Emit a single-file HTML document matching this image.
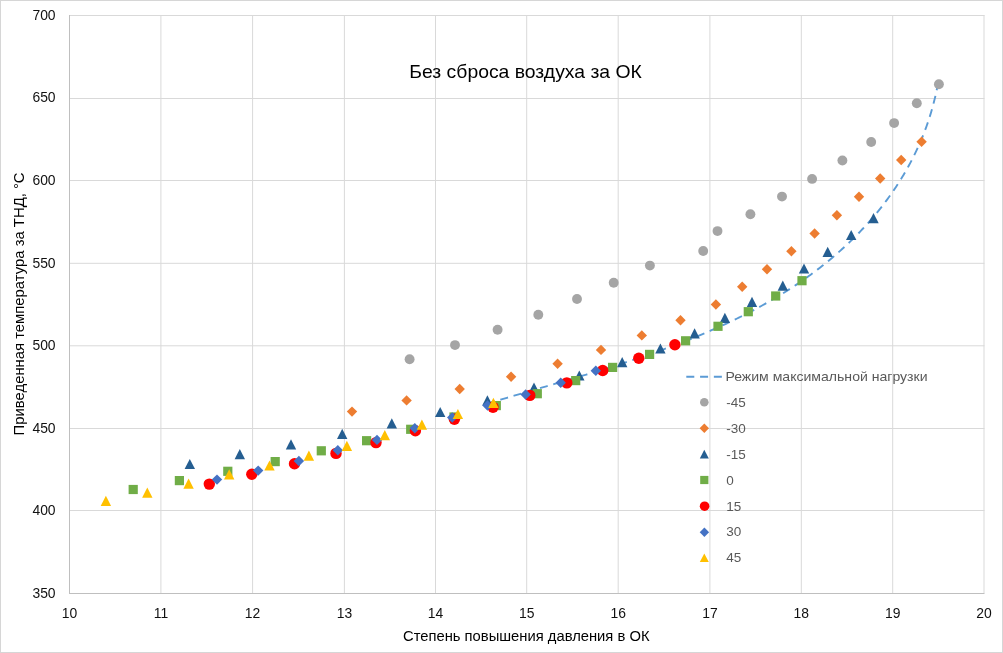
<!DOCTYPE html><html><head><meta charset="utf-8"><style>html,body{margin:0;padding:0;background:#fff;overflow:hidden}svg{display:block;will-change:transform}</style></head><body>
<svg width="1003" height="653" viewBox="0 0 1003 653" font-family="'Liberation Sans', Arial, sans-serif">
<rect x="0" y="0" width="1003" height="653" fill="#fff"/>
<rect x="0.5" y="0.5" width="1002" height="652" fill="none" stroke="#D6D6D6" stroke-width="1"/>
<path d="M69 15.50H984.5 M69 98.50H984.5 M69 180.50H984.5 M69 263.30H984.5 M69 345.80H984.5 M69 428.50H984.5 M69 510.50H984.5 M160.90 15V593 M252.60 15V593 M344.40 15V593 M435.50 15V593 M526.70 15V593 M618.20 15V593 M709.90 15V593 M801.30 15V593 M892.70 15V593 M984.00 15V593" stroke="#D9D9D9" stroke-width="1" fill="none"/>
<path d="M69.5 15V593.5" stroke="#BFBFBF" stroke-width="1" fill="none"/>
<path d="M69 593.5H984.5" stroke="#BFBFBF" stroke-width="1" fill="none"/>
<text x="55.6" y="597.70" font-size="13.9" fill="#111" text-anchor="end">350</text>
<text x="55.6" y="514.80" font-size="13.9" fill="#111" text-anchor="end">400</text>
<text x="55.6" y="432.60" font-size="13.9" fill="#111" text-anchor="end">450</text>
<text x="55.6" y="350.30" font-size="13.9" fill="#111" text-anchor="end">500</text>
<text x="55.6" y="267.80" font-size="13.9" fill="#111" text-anchor="end">550</text>
<text x="55.6" y="184.80" font-size="13.9" fill="#111" text-anchor="end">600</text>
<text x="55.6" y="102.10" font-size="13.9" fill="#111" text-anchor="end">650</text>
<text x="55.6" y="20.00" font-size="13.9" fill="#111" text-anchor="end">700</text>
<text x="69.5" y="617.5" font-size="13.9" fill="#111" text-anchor="middle">10</text>
<text x="160.9" y="617.5" font-size="13.9" fill="#111" text-anchor="middle">11</text>
<text x="252.6" y="617.5" font-size="13.9" fill="#111" text-anchor="middle">12</text>
<text x="344.4" y="617.5" font-size="13.9" fill="#111" text-anchor="middle">13</text>
<text x="435.5" y="617.5" font-size="13.9" fill="#111" text-anchor="middle">14</text>
<text x="526.7" y="617.5" font-size="13.9" fill="#111" text-anchor="middle">15</text>
<text x="618.2" y="617.5" font-size="13.9" fill="#111" text-anchor="middle">16</text>
<text x="709.9" y="617.5" font-size="13.9" fill="#111" text-anchor="middle">17</text>
<text x="801.3" y="617.5" font-size="13.9" fill="#111" text-anchor="middle">18</text>
<text x="892.7" y="617.5" font-size="13.9" fill="#111" text-anchor="middle">19</text>
<text x="984.0" y="617.5" font-size="13.9" fill="#111" text-anchor="middle">20</text>
<path d="M490.66 402.67 L492.45 402.13 L494.25 401.59 L496.04 401.05 L497.84 400.52 L499.64 399.98 L501.44 399.45 L503.25 398.91 L505.05 398.38 L506.86 397.84 L508.68 397.31 L510.49 396.78 L512.31 396.24 L514.13 395.71 L515.95 395.18 L517.77 394.64 L519.60 394.11 L521.43 393.58 L523.26 393.04 L525.09 392.51 L526.92 391.98 L528.76 391.44 L530.60 390.91 L532.44 390.38 L534.28 389.84 L536.12 389.31 L537.96 388.77 L539.81 388.24 L541.66 387.70 L543.51 387.16 L545.36 386.62 L547.21 386.09 L549.06 385.55 L550.92 385.01 L552.78 384.47 L554.63 383.93 L556.49 383.38 L558.35 382.84 L560.21 382.30 L562.08 381.75 L563.94 381.21 L565.80 380.66 L567.67 380.11 L569.53 379.56 L571.40 379.01 L573.27 378.46 L575.14 377.90 L577.01 377.35 L578.87 376.79 L580.74 376.24 L582.62 375.68 L584.49 375.12 L586.36 374.55 L588.23 373.99 L590.10 373.42 L591.98 372.85 L593.85 372.28 L595.72 371.71 L597.60 371.14 L599.47 370.56 L601.34 369.99 L603.22 369.41 L605.09 368.83 L606.97 368.24 L608.84 367.66 L610.71 367.07 L612.59 366.48 L614.46 365.89 L616.33 365.29 L618.21 364.69 L620.08 364.09 L621.95 363.49 L623.82 362.89 L625.69 362.28 L627.57 361.67 L629.44 361.06 L631.30 360.44 L633.17 359.82 L635.04 359.20 L636.91 358.58 L638.78 357.95 L640.64 357.32 L642.51 356.69 L644.37 356.05 L646.23 355.41 L648.09 354.77 L649.95 354.13 L651.81 353.48 L653.67 352.83 L655.53 352.17 L657.39 351.51 L659.24 350.85 L661.09 350.18 L662.94 349.52 L664.79 348.84 L666.64 348.17 L668.49 347.49 L670.34 346.80 L672.18 346.12 L674.02 345.43 L675.86 344.73 L677.70 344.03 L679.54 343.33 L681.37 342.62 L683.21 341.91 L685.04 341.20 L686.87 340.48 L688.70 339.75 L690.52 339.03 L692.34 338.30 L694.16 337.56 L695.98 336.82 L697.80 336.08 L699.61 335.33 L701.43 334.57 L703.23 333.82 L705.04 333.05 L706.85 332.29 L708.65 331.51 L710.45 330.74 L712.24 329.96 L714.04 329.17 L715.83 328.38 L717.62 327.58 L719.40 326.78 L721.18 325.98 L722.96 325.17 L724.74 324.35 L726.51 323.53 L728.28 322.70 L730.05 321.87 L731.82 321.03 L733.58 320.19 L735.34 319.34 L737.09 318.49 L738.84 317.63 L740.59 316.77 L742.33 315.90 L744.07 315.03 L745.81 314.15 L747.55 313.26 L749.28 312.37 L751.00 311.47 L752.73 310.57 L754.45 309.66 L756.16 308.74 L757.87 307.82 L759.58 306.89 L761.28 305.96 L762.98 305.02 L764.68 304.08 L766.37 303.12 L768.06 302.17 L769.74 301.20 L771.42 300.23 L773.10 299.25 L774.77 298.27 L776.44 297.28 L778.10 296.28 L779.76 295.28 L781.41 294.27 L783.06 293.26 L784.70 292.23 L786.34 291.20 L787.98 290.17 L789.61 289.13 L791.23 288.08 L792.85 287.02 L794.47 285.95 L796.08 284.88 L797.68 283.81 L799.29 282.72 L800.88 281.63 L802.47 280.53 L804.06 279.42 L805.64 278.31 L807.21 277.19 L808.78 276.06 L810.35 274.92 L811.91 273.78 L813.46 272.63 L815.01 271.47 L816.55 270.30 L818.09 269.13 L819.62 267.95 L821.15 266.76 L822.67 265.56 L824.18 264.36 L825.69 263.15 L827.20 261.93 L828.69 260.70 L830.18 259.47 L831.67 258.23 L833.14 256.98 L834.61 255.72 L836.08 254.46 L837.54 253.19 L838.99 251.91 L840.43 250.62 L841.87 249.33 L843.30 248.03 L844.72 246.72 L846.14 245.40 L847.55 244.08 L848.95 242.75 L850.35 241.41 L851.74 240.06 L853.12 238.71 L854.49 237.35 L855.85 235.98 L857.21 234.60 L858.56 233.22 L859.90 231.83 L861.24 230.43 L862.56 229.02 L863.88 227.61 L865.19 226.19 L866.49 224.76 L867.79 223.33 L869.07 221.89 L870.35 220.44 L871.62 218.98 L872.88 217.51 L874.13 216.04 L875.37 214.56 L876.60 213.07 L877.83 211.58 L879.04 210.08 L880.25 208.57 L881.45 207.05 L882.64 205.53 L883.82 204.00 L884.98 202.46 L886.15 200.92 L887.30 199.36 L888.44 197.80 L889.57 196.24 L890.69 194.66 L891.80 193.08 L892.90 191.49 L894.00 189.89 L895.08 188.29 L896.15 186.68 L897.21 185.06 L898.26 183.43 L899.31 181.80 L900.34 180.16 L901.36 178.51 L902.37 176.86 L903.37 175.19 L904.35 173.53 L905.33 171.85 L906.30 170.16 L907.25 168.47 L908.20 166.78 L909.13 165.07 L910.06 163.36 L910.97 161.64 L911.87 159.91 L912.76 158.18 L913.63 156.43 L914.50 154.68 L915.35 152.93 L916.19 151.17 L917.02 149.39 L917.84 147.62 L918.65 145.83 L919.44 144.04 L920.23 142.24 L921.00 140.43 L921.75 138.62 L922.50 136.80 L923.23 134.97 L923.95 133.14 L924.66 131.30 L925.36 129.45 L926.04 127.59 L926.71 125.73 L927.37 123.86 L928.01 121.98 L928.64 120.09 L929.26 118.20 L929.87 116.30 L930.46 114.40 L931.04 112.48 L931.60 110.56 L932.15 108.63 L932.69 106.70 L933.22 104.76 L933.73 102.81 L934.22 100.85 L934.71 98.89 L935.18 96.92 L935.63 94.94 L936.07 92.96 L936.50 90.97 L936.91 88.97 L937.31 86.97 L937.70 84.95 L938.06 82.93" fill="none" stroke="#5B9BD5" stroke-width="1.9" stroke-dasharray="8 5.78" stroke-dashoffset="3.68"/>
<circle cx="409.6" cy="359.2" r="4.95" fill="#A5A5A5"/><circle cx="455.0" cy="345.1" r="4.95" fill="#A5A5A5"/><circle cx="497.6" cy="329.8" r="4.95" fill="#A5A5A5"/><circle cx="538.3" cy="314.7" r="4.95" fill="#A5A5A5"/><circle cx="577.0" cy="299.0" r="4.95" fill="#A5A5A5"/><circle cx="613.7" cy="282.8" r="4.95" fill="#A5A5A5"/><circle cx="649.9" cy="265.6" r="4.95" fill="#A5A5A5"/><circle cx="703.2" cy="251.0" r="4.95" fill="#A5A5A5"/><circle cx="717.5" cy="231.1" r="4.95" fill="#A5A5A5"/><circle cx="750.4" cy="214.2" r="4.95" fill="#A5A5A5"/><circle cx="782.0" cy="196.6" r="4.95" fill="#A5A5A5"/><circle cx="812.1" cy="178.9" r="4.95" fill="#A5A5A5"/><circle cx="842.4" cy="160.5" r="4.95" fill="#A5A5A5"/><circle cx="871.2" cy="142.0" r="4.95" fill="#A5A5A5"/><circle cx="894.1" cy="123.1" r="4.95" fill="#A5A5A5"/><circle cx="916.8" cy="103.2" r="4.95" fill="#A5A5A5"/><circle cx="938.9" cy="84.3" r="4.95" fill="#A5A5A5"/><path d="M352.0 406.4L357.2 411.6L352.0 416.8L346.8 411.6Z" fill="#ED7D31"/><path d="M406.6 395.2L411.8 400.4L406.6 405.6L401.4 400.4Z" fill="#ED7D31"/><path d="M459.7 383.8L464.9 389.0L459.7 394.2L454.5 389.0Z" fill="#ED7D31"/><path d="M511.1 371.5L516.3 376.7L511.1 381.9L505.9 376.7Z" fill="#ED7D31"/><path d="M557.6 358.6L562.8 363.8L557.6 369.0L552.4 363.8Z" fill="#ED7D31"/><path d="M601.0 344.7L606.2 349.9L601.0 355.1L595.8 349.9Z" fill="#ED7D31"/><path d="M641.8 330.2L647.0 335.4L641.8 340.6L636.6 335.4Z" fill="#ED7D31"/><path d="M680.5 315.1L685.7 320.3L680.5 325.5L675.3 320.3Z" fill="#ED7D31"/><path d="M715.9 299.3L721.1 304.5L715.9 309.7L710.7 304.5Z" fill="#ED7D31"/><path d="M742.2 281.6L747.4 286.8L742.2 292.0L737.0 286.8Z" fill="#ED7D31"/><path d="M767.0 264.1L772.2 269.3L767.0 274.5L761.8 269.3Z" fill="#ED7D31"/><path d="M791.4 246.0L796.6 251.2L791.4 256.4L786.2 251.2Z" fill="#ED7D31"/><path d="M814.6 228.3L819.8 233.5L814.6 238.7L809.4 233.5Z" fill="#ED7D31"/><path d="M836.9 210.0L842.1 215.2L836.9 220.4L831.7 215.2Z" fill="#ED7D31"/><path d="M859.0 191.5L864.2 196.7L859.0 201.9L853.8 196.7Z" fill="#ED7D31"/><path d="M880.2 173.3L885.4 178.5L880.2 183.7L875.0 178.5Z" fill="#ED7D31"/><path d="M901.2 154.8L906.4 160.0L901.2 165.2L896.0 160.0Z" fill="#ED7D31"/><path d="M921.6 136.5L926.8 141.7L921.6 146.9L916.4 141.7Z" fill="#ED7D31"/><path d="M189.8 458.9L195.0 469.1L184.6 469.1Z" fill="#255E91"/><path d="M239.8 449.1L245.0 459.2L234.6 459.2Z" fill="#255E91"/><path d="M291.0 439.2L296.2 449.4L285.8 449.4Z" fill="#255E91"/><path d="M342.2 428.8L347.4 438.9L337.0 438.9Z" fill="#255E91"/><path d="M391.8 418.2L397.0 428.4L386.6 428.4Z" fill="#255E91"/><path d="M440.2 406.9L445.4 417.1L435.0 417.1Z" fill="#255E91"/><path d="M487.4 395.2L492.6 405.4L482.2 405.4Z" fill="#255E91"/><path d="M534.0 382.4L539.2 392.6L528.8 392.6Z" fill="#255E91"/><path d="M579.3 370.4L584.5 380.6L574.1 380.6Z" fill="#255E91"/><path d="M622.2 357.1L627.4 367.2L617.0 367.2Z" fill="#255E91"/><path d="M660.4 343.4L665.6 353.6L655.2 353.6Z" fill="#255E91"/><path d="M694.6 328.3L699.8 338.4L689.4 338.4Z" fill="#255E91"/><path d="M724.9 312.8L730.1 322.9L719.7 322.9Z" fill="#255E91"/><path d="M752.0 296.8L757.2 306.9L746.8 306.9Z" fill="#255E91"/><path d="M782.8 280.6L788.0 290.7L777.6 290.7Z" fill="#255E91"/><path d="M804.0 263.4L809.2 273.6L798.8 273.6Z" fill="#255E91"/><path d="M827.7 246.8L832.9 256.9L822.5 256.9Z" fill="#255E91"/><path d="M851.2 229.9L856.4 240.1L846.0 240.1Z" fill="#255E91"/><path d="M873.5 213.0L878.7 223.2L868.3 223.2Z" fill="#255E91"/><rect x="128.6" y="484.9" width="9.2" height="9.2" fill="#70AD47"/><rect x="174.8" y="476.0" width="9.2" height="9.2" fill="#70AD47"/><rect x="223.2" y="466.7" width="9.2" height="9.2" fill="#70AD47"/><rect x="270.6" y="457.0" width="9.2" height="9.2" fill="#70AD47"/><rect x="316.7" y="446.2" width="9.2" height="9.2" fill="#70AD47"/><rect x="362.0" y="436.1" width="9.2" height="9.2" fill="#70AD47"/><rect x="406.1" y="424.7" width="9.2" height="9.2" fill="#70AD47"/><rect x="449.4" y="412.4" width="9.2" height="9.2" fill="#70AD47"/><rect x="491.7" y="401.0" width="9.2" height="9.2" fill="#70AD47"/><rect x="532.7" y="389.1" width="9.2" height="9.2" fill="#70AD47"/><rect x="571.1" y="376.0" width="9.2" height="9.2" fill="#70AD47"/><rect x="608.0" y="362.8" width="9.2" height="9.2" fill="#70AD47"/><rect x="645.0" y="349.8" width="9.2" height="9.2" fill="#70AD47"/><rect x="681.0" y="336.2" width="9.2" height="9.2" fill="#70AD47"/><rect x="713.4" y="321.7" width="9.2" height="9.2" fill="#70AD47"/><rect x="743.7" y="307.1" width="9.2" height="9.2" fill="#70AD47"/><rect x="771.1" y="291.4" width="9.2" height="9.2" fill="#70AD47"/><rect x="797.4" y="276.1" width="9.2" height="9.2" fill="#70AD47"/><circle cx="209.3" cy="484.1" r="5.7" fill="#FF0000"/><circle cx="251.8" cy="474.3" r="5.7" fill="#FF0000"/><circle cx="294.5" cy="463.7" r="5.7" fill="#FF0000"/><circle cx="336.0" cy="453.4" r="5.7" fill="#FF0000"/><circle cx="376.0" cy="442.6" r="5.7" fill="#FF0000"/><circle cx="415.4" cy="430.7" r="5.7" fill="#FF0000"/><circle cx="454.4" cy="419.3" r="5.7" fill="#FF0000"/><circle cx="493.0" cy="407.3" r="5.7" fill="#FF0000"/><circle cx="529.8" cy="395.4" r="5.7" fill="#FF0000"/><circle cx="566.8" cy="382.9" r="5.7" fill="#FF0000"/><circle cx="602.7" cy="370.5" r="5.7" fill="#FF0000"/><circle cx="638.8" cy="358.3" r="5.7" fill="#FF0000"/><circle cx="674.9" cy="344.8" r="5.7" fill="#FF0000"/><path d="M217.0 474.4L222.2 479.6L217.0 484.8L211.8 479.6Z" fill="#4472C4"/><path d="M258.2 465.4L263.4 470.6L258.2 475.8L253.0 470.6Z" fill="#4472C4"/><path d="M298.9 455.8L304.1 461.0L298.9 466.2L293.7 461.0Z" fill="#4472C4"/><path d="M337.8 445.1L343.0 450.3L337.8 455.5L332.6 450.3Z" fill="#4472C4"/><path d="M377.0 434.7L382.2 439.9L377.0 445.1L371.8 439.9Z" fill="#4472C4"/><path d="M414.8 423.1L420.0 428.3L414.8 433.5L409.6 428.3Z" fill="#4472C4"/><path d="M452.2 412.3L457.4 417.5L452.2 422.7L447.0 417.5Z" fill="#4472C4"/><path d="M487.5 400.3L492.7 405.5L487.5 410.7L482.3 405.5Z" fill="#4472C4"/><path d="M525.6 389.3L530.8 394.5L525.6 399.7L520.4 394.5Z" fill="#4472C4"/><path d="M560.7 377.5L565.9 382.7L560.7 387.9L555.5 382.7Z" fill="#4472C4"/><path d="M595.8 365.5L601.0 370.7L595.8 375.9L590.6 370.7Z" fill="#4472C4"/><path d="M105.9 495.8L111.1 505.9L100.7 505.9Z" fill="#FFC000"/><path d="M147.3 487.6L152.5 497.7L142.1 497.7Z" fill="#FFC000"/><path d="M188.6 478.6L193.8 488.8L183.4 488.8Z" fill="#FFC000"/><path d="M229.2 469.2L234.4 479.4L224.0 479.4Z" fill="#FFC000"/><path d="M269.5 460.4L274.7 470.6L264.3 470.6Z" fill="#FFC000"/><path d="M308.9 450.6L314.1 460.7L303.7 460.7Z" fill="#FFC000"/><path d="M346.9 440.8L352.1 450.9L341.7 450.9Z" fill="#FFC000"/><path d="M384.8 430.1L390.0 440.2L379.6 440.2Z" fill="#FFC000"/><path d="M421.9 419.6L427.1 429.8L416.7 429.8Z" fill="#FFC000"/><path d="M457.9 408.9L463.1 419.1L452.7 419.1Z" fill="#FFC000"/><path d="M493.4 397.8L498.6 407.9L488.2 407.9Z" fill="#FFC000"/>
<path d="M686.3 376.8H722" stroke="#5B9BD5" stroke-width="1.9" stroke-dasharray="8 5.78"/>
<text x="725.4" y="381.0" font-size="13.5" fill="#595959" textLength="202.2" lengthAdjust="spacingAndGlyphs">Режим максимальной нагрузки</text>
<circle cx="704.3" cy="402.3" r="4.3" fill="#A5A5A5"/>
<text x="726.3" y="406.9" font-size="13.5" fill="#595959">-45</text>
<path d="M704.3 423.5L709.0 428.2L704.3 432.9L699.6 428.2Z" fill="#ED7D31"/>
<text x="726.3" y="432.8" font-size="13.5" fill="#595959">-30</text>
<path d="M704.3 449.8L708.8 458.4L699.8 458.4Z" fill="#255E91"/>
<text x="726.3" y="458.7" font-size="13.5" fill="#595959">-15</text>
<rect x="700.2" y="475.9" width="8.2" height="8.2" fill="#70AD47"/>
<text x="726.3" y="484.6" font-size="13.5" fill="#595959">0</text>
<circle cx="704.6" cy="506.2" r="4.8" fill="#FF0000"/>
<text x="726.3" y="510.5" font-size="13.5" fill="#595959">15</text>
<path d="M704.4 527.5L709.1 532.2L704.4 536.9L699.7 532.2Z" fill="#4472C4"/>
<text x="726.3" y="536.4" font-size="13.5" fill="#595959">30</text>
<path d="M704.3 553.4L708.8 562.0L699.8 562.0Z" fill="#FFC000"/>
<text x="726.3" y="562.3" font-size="13.5" fill="#595959">45</text>
<text x="409.3" y="78.2" font-size="19" fill="#000" textLength="232.5" lengthAdjust="spacingAndGlyphs">Без сброса воздуха за ОК</text>
<text x="403" y="641.0" font-size="14.7" fill="#000" textLength="246.5" lengthAdjust="spacingAndGlyphs">Степень повышения давления в ОК</text>
<text transform="translate(24.3 435.4) rotate(-90)" x="0" y="0" font-size="14.1" fill="#000" textLength="263" lengthAdjust="spacingAndGlyphs">Приведенная температура за ТНД, °С</text>
</svg></body></html>
